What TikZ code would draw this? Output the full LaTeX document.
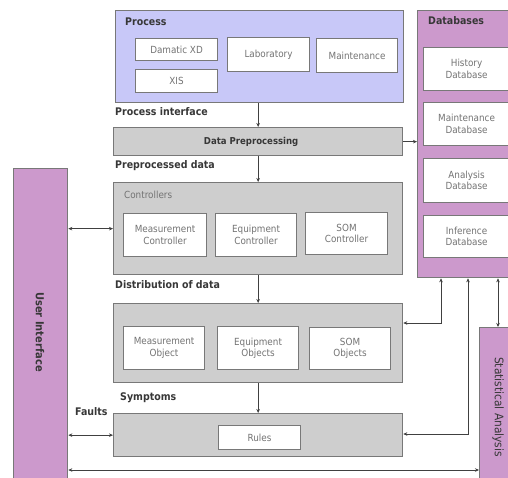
\documentclass[tikz,border=0pt]{standalone}
\usepackage{fontspec}
\setmainfont{DejaVu Sans Condensed}
\usetikzlibrary{arrows.meta}
\definecolor{lav}{RGB}{200,200,248}
\definecolor{pinkv}{RGB}{204,153,204}
\definecolor{boxgray}{RGB}{206,206,206}
\definecolor{edge}{RGB}{120,120,120}
\definecolor{txt}{RGB}{55,55,55}
\begin{document}
\begin{tikzpicture}[x=1pt,y=-1pt,
  box/.style={draw=edge, line width=1.3pt, inner sep=0pt, anchor=north west},
  procbox/.style={box, fill=lav},
  dbbox/.style={box, fill=pinkv},
  graybox/.style={box, fill=boxgray},
  whitebox/.style={box, fill=white, line width=1.1pt, align=center, text=black!55,
     font=\fontsize{9.8}{11.5}\selectfont},
  lbl/.style={anchor=west, inner sep=0pt, text=txt, font=\bfseries\fontsize{10.5}{12}\selectfont},
  arr/.style={-{Stealth[length=4pt,width=3.5pt]}, line width=0.7pt, draw=black!75},
  darr/.style={{Stealth[length=4pt,width=3.5pt]}-{Stealth[length=4pt,width=3.5pt]}, line width=0.7pt, draw=black!75}]
\useasboundingbox (0,0) rectangle (508,477);
\fill[white] (0,0) rectangle (508,477);

% Process
\node[procbox, minimum width=288pt, minimum height=92pt] (process) at (115,10) {};
\node[lbl] (proclbl) at (125,22) {Process};
\node[whitebox, minimum width=82pt, minimum height=22pt] (damatic) at (135,38) {Damatic XD};
\node[whitebox, minimum width=82pt, minimum height=23pt] (xis) at (135,69) {XIS};
\node[whitebox, minimum width=82pt, minimum height=34pt] (lab) at (227,37) {Laboratory};
\node[whitebox, minimum width=81pt, minimum height=34pt] (maint) at (316,38) {Maintenance};

% Databases
\node[dbbox, minimum width=100pt, minimum height=267pt] (databases) at (417,10) {};
\node[lbl] (dblbl) at (428,21) {Databases};
\node[whitebox, minimum width=86pt, minimum height=43pt] (hist) at (423,47) {History\\Database};
\node[whitebox, minimum width=86pt, minimum height=43pt] (maintdb) at (423,102) {Maintenance\\Database};
\node[whitebox, minimum width=86pt, minimum height=44pt] (anadb) at (423,158) {Analysis\\Database};
\node[whitebox, minimum width=86pt, minimum height=42pt] (infdb) at (423,215) {Inference\\Database};

% Data preprocessing
\node[lbl] (pilbl) at (115,112) {Process interface};
\node[graybox, minimum width=289pt, minimum height=28pt, font=\bfseries\fontsize{9.5}{11}\selectfont, text=txt] (dataprep) at (113,127) {\hspace*{-14pt}Data Preprocessing};
\node[lbl] (pdlbl) at (115,166) {Preprocessed data};

% Controllers
\node[graybox, minimum width=289pt, minimum height=92pt] (controllers) at (113,182) {};
\node[anchor=west, inner sep=0pt, text=black!55, font=\fontsize{9.8}{11}\selectfont] (ctrllbl) at (124,195) {Controllers};
\node[whitebox, minimum width=83pt, minimum height=43pt] (measctrl) at (123,213) {Measurement\\Controller};
\node[whitebox, minimum width=81pt, minimum height=43pt] (equipctrl) at (215,213) {Equipment\\Controller};
\node[whitebox, minimum width=82pt, minimum height=42pt] (somctrl) at (305,212) {SOM\\Controller};
\node[lbl] (distlbl) at (115,285) {Distribution of data};

% Objects
\node[graybox, minimum width=289pt, minimum height=79pt] (objects) at (113,303) {};
\node[whitebox, minimum width=81pt, minimum height=43pt] (measobj) at (123,326) {Measurement\\Object};
\node[whitebox, minimum width=81pt, minimum height=43pt] (equipobj) at (217,326) {Equipment\\Objects};
\node[whitebox, minimum width=81pt, minimum height=42pt] (somobj) at (309,327) {SOM\\Objects};

% Rules
\node[lbl] (symlbl) at (120,398) {Symptoms};
\node[lbl] (faultlbl) at (75,412) {Faults};
\node[graybox, minimum width=289pt, minimum height=43pt] (rulesbox) at (113,413) {};
\node[whitebox, minimum width=82pt, minimum height=24pt] (rules) at (218,425) {Rules};

% User interface
\node[dbbox, minimum width=54pt, minimum height=330pt] (ui) at (13,168) {};
\node[rotate=-90, inner sep=0pt, text=txt, font=\bfseries\fontsize{11}{12}\selectfont] (uilbl) at (40,332) {User Interface};

% Statistical analysis
\node[dbbox, minimum width=45pt, minimum height=170pt] (stat) at (479,327) {};
\node[rotate=-90, inner sep=0pt, text=txt, font=\fontsize{11.8}{13}\selectfont] (statlbl) at (498,407) {Statistical Analysis};

% Connectors
\draw[arr] (process.south -| dataprep.north) -- (dataprep.north);
\draw[arr] (dataprep.east) -- (dataprep.east -| databases.west);
\draw[arr] (dataprep.south) -- (controllers.north);
\draw[arr] (controllers.south) -- (objects.north);
\draw[arr] (objects.south) -- (rulesbox.north);
\draw[darr] (ui.east |- controllers.west) -- (controllers.west);
\draw[darr] (ui.east |- rulesbox.west) -- (rulesbox.west);
\coordinate (bl) at (67,470);
\draw[darr] (ui.east |- bl) -- (stat.west |- bl);
\coordinate (d1) at (441,323);
\coordinate (d2) at (468,434);
\coordinate (d3) at (498,300);
\draw[darr] (databases.south -| d1) -- (d1) -- (objects.east |- d1);
\draw[darr] (databases.south -| d2) -- (d2) -- (rulesbox.east |- d2);
\draw[darr] (databases.south -| d3) -- (stat.north -| d3);
\end{tikzpicture}
\end{document}
